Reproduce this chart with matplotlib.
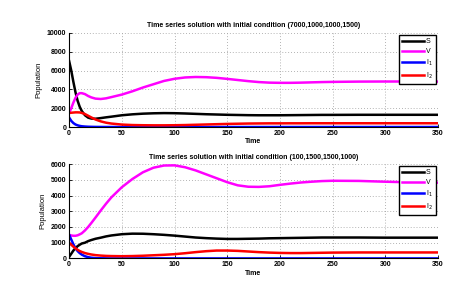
import matplotlib
matplotlib.use("Agg")
import matplotlib.pyplot as plt

plt.rcParams['font.family'] = ['Liberation Sans', 'DejaVu Sans']

# ---- data: top panel, initial condition (7000,1000,1000,1500)
t_top = [0, 2, 4, 6, 8, 10, 12, 15, 18, 21, 25, 30, 35, 40, 50, 60, 70, 80, 90, 100,
         110, 120, 130, 140, 150, 160, 170, 180, 190, 200, 210, 220, 230, 240, 250,
         275, 300, 325, 350]
S_top = [7000, 6000, 4800, 3700, 2800, 2150, 1700, 1250, 1000, 900, 880, 950, 1030, 1100,
         1250, 1350, 1420, 1460, 1480, 1470, 1440, 1400, 1360, 1330, 1300, 1280, 1260,
         1250, 1250, 1250, 1260, 1270, 1280, 1290, 1290, 1300, 1300, 1300, 1300]
V_top = [1500, 2000, 2600, 3100, 3450, 3600, 3600, 3500, 3300, 3150, 3020, 2980, 3050,
         3180, 3450, 3800, 4200, 4550, 4900, 5130, 5270, 5320, 5300, 5230, 5120, 5000,
         4880, 4780, 4720, 4700, 4700, 4720, 4750, 4780, 4800, 4830, 4840, 4840, 4830]
I1_top = [1000, 650, 420, 270, 180, 120, 80, 50, 30, 20, 10, 5, 2, 1, 0, 0, 0, 0, 0, 0,
          0, 0, 0, 0, 0, 0, 0, 0, 0, 0, 0, 0, 0, 0, 0, 0, 0, 0, 0]
I2_top = [1500, 1520, 1540, 1560, 1560, 1550, 1500, 1380, 1200, 1020, 800, 600, 460, 370,
          260, 210, 190, 180, 180, 190, 210, 240, 270, 300, 330, 350, 370, 380, 390, 390,
          395, 395, 400, 400, 400, 400, 400, 400, 400]

# ---- data: bottom panel, initial condition (100,1500,1500,1000)
t_bot = t_top
S_bot = [100, 300, 500, 650, 780, 870, 950, 1000, 1100, 1170, 1250, 1320, 1400, 1460,
         1540, 1575, 1570, 1540, 1500, 1450, 1390, 1330, 1290, 1260, 1240, 1240, 1250,
         1260, 1280, 1290, 1300, 1310, 1320, 1330, 1330, 1330, 1320, 1320, 1320]
V_bot = [1500, 1460, 1440, 1440, 1470, 1530, 1600, 1780, 2000, 2250, 2600, 3050, 3480,
         3880, 4530, 5050, 5480, 5770, 5910, 5920, 5800, 5600, 5350, 5100, 4850, 4650,
         4560, 4550, 4590, 4680, 4760, 4830, 4880, 4920, 4940, 4930, 4880, 4840, 4820]
I1_bot = [1500, 1200, 900, 650, 470, 340, 240, 140, 80, 45, 20, 8, 3, 0, 0, 0, 0, 0, 0, 0,
          0, 0, 0, 0, 0, 0, 0, 0, 0, 0, 0, 0, 0, 0, 0, 0, 0, 0, 0]
I2_bot = [1000, 870, 750, 640, 550, 470, 410, 340, 290, 250, 210, 180, 160, 150, 140, 150,
          170, 200, 230, 270, 330, 400, 460, 500, 500, 480, 440, 400, 370, 350, 340, 340,
          350, 360, 370, 380, 380, 380, 380]

labels = ['S', 'V', 'I$_1$', 'I$_2$']
colors = ['black', '#ff00ff', 'blue', 'red']
titles = ['Time series solution with initial condition (7000,1000,1000,1500)',
          'Time series solution with initial condition (100,1500,1500,1000)']
xticks = [0, 50, 100, 150, 200, 250, 300, 350]
yticks_top = [0, 2000, 4000, 6000, 8000, 10000]
yticks_bot = [0, 1000, 2000, 3000, 4000, 5000, 6000]

fig = plt.figure(figsize=(4.77, 2.92), dpi=100)
ax1 = fig.add_axes([0.145, 0.565, 0.773, 0.322])
ax2 = fig.add_axes([0.145, 0.115, 0.773, 0.323])

panels = [
    (ax1, t_top, [S_top, V_top, I1_top, I2_top], yticks_top, titles[0]),
    (ax2, t_bot, [S_bot, V_bot, I1_bot, I2_bot], yticks_bot, titles[1]),
]

fs = 5
for ax, t, series, yt, title in panels:
    for y, c, lab in zip(series, colors, labels):
        ax.plot(t, y, color=c, lw=1.8, label=lab, solid_joinstyle='round')
    ax.set_xlim(0, 350)
    ax.set_ylim(yt[0], yt[-1])
    ax.set_xticks(xticks)
    ax.set_yticks(yt)
    ax.tick_params(direction='in', length=2.5, width=0.6, labelsize=fs, pad=2)
    for lab in ax.get_xticklabels() + ax.get_yticklabels():
        lab.set_fontweight('bold')
    ax.grid(True, linestyle=(0, (1, 2.5)), color='#9a9a9a', linewidth=0.6)
    ax.spines['top'].set_visible(False)
    ax.spines['right'].set_visible(False)
    ax.spines['left'].set_linewidth(0.8)
    ax.spines['bottom'].set_linewidth(0.8)
    ax.set_title(title, fontsize=fs, fontweight='bold', pad=4)
    ax.set_xlabel('Time', fontsize=fs, fontweight='bold', labelpad=1)
    ax.set_ylabel('Population', fontsize=fs + 0.5, labelpad=3)
    leg = ax.legend(loc='upper right', fontsize=fs, frameon=True, fancybox=False,
                    borderaxespad=0.3, handlelength=3.2, handletextpad=0.3,
                    labelspacing=0.4, borderpad=0.45)
    leg.get_frame().set_edgecolor('black')
    leg.get_frame().set_linewidth(1.0)
    leg.get_frame().set_alpha(1)

fig.savefig('out.png', dpi=100)
